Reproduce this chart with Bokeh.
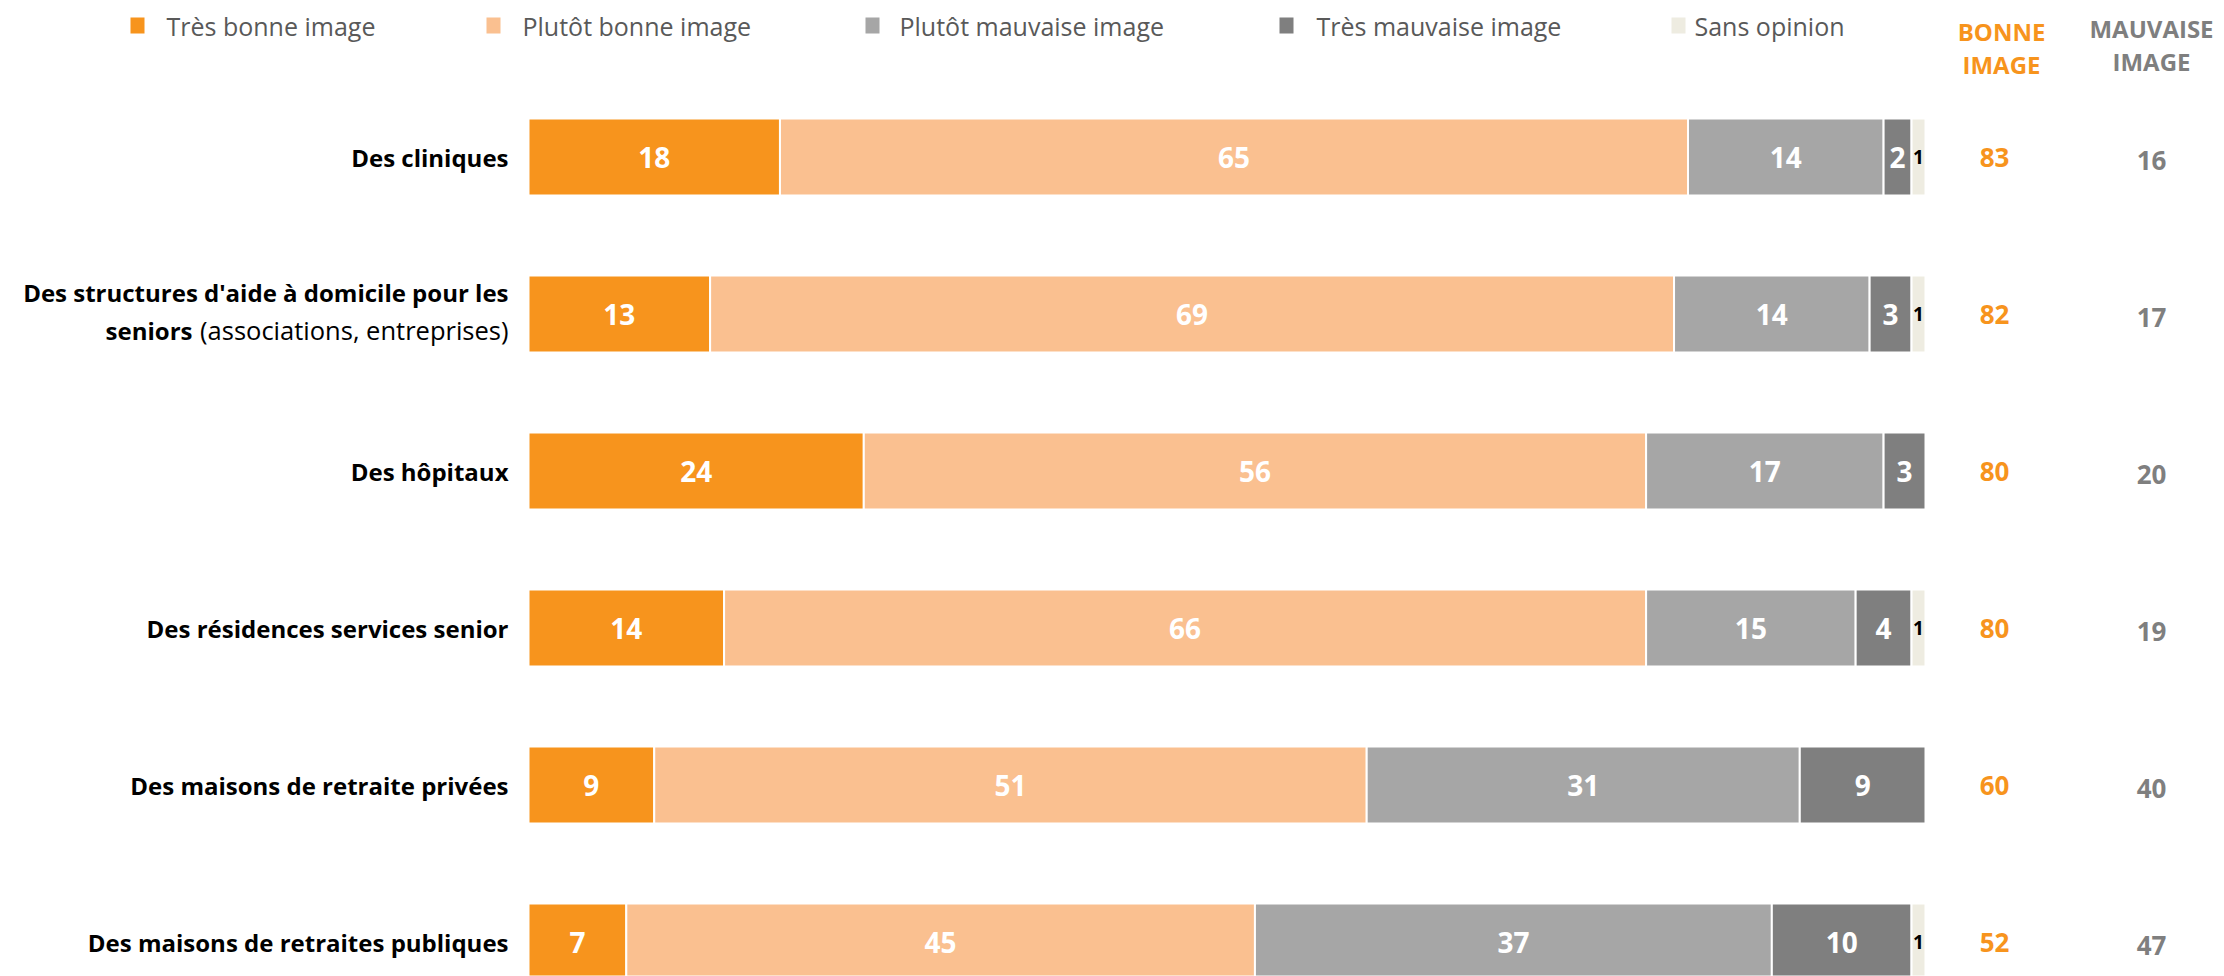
from bokeh.plotting import figure
from bokeh.models import Range1d, ColumnDataSource
from bokeh.embed import file_html
from bokeh.resources import INLINE
from bokeh.core.properties import value

# ---------------- data ----------------
categories = [
    "Des cliniques",
    "Des structures d'aide à domicile pour les seniors (associations, entreprises)",
    "Des hôpitaux",
    "Des résidences services senior",
    "Des maisons de retraite privées",
    "Des maisons de retraites publiques",
]
tres_bonne = [18, 13, 24, 14, 9, 7]
plutot_bonne = [65, 69, 56, 66, 51, 45]
plutot_mauvaise = [14, 14, 17, 15, 31, 37]
tres_mauvaise = [2, 3, 3, 4, 9, 10]
sans_opinion = [1, 1, 0, 1, 0, 1]
bonne_image = [83, 82, 80, 80, 60, 52]
mauvaise_image = [16, 17, 20, 19, 40, 47]
series_names = ["Très bonne image", "Plutôt bonne image", "Plutôt mauvaise image",
                "Très mauvaise image", "Sans opinion"]
header_bonne = ["BONNE", "IMAGE"]
header_mauvaise = ["MAUVAISE", "IMAGE"]

# ---------------- style / layout ----------------
colors = ["#F7941D", "#FAC090", "#A6A6A6", "#7F7F7F", "#EEECE1"]
ORANGE = "#F7941D"
GREY = "#7F7F7F"
FONT = "Open Sans"
W, H = 2224, 976
X0_PX = 528.0          # pixel of value 0
PX = 13.97             # pixels per percentage point
ROW_PX = 157.0
ROW0_PX = 156.5
BAR_H = 77.0 / ROW_PX


def px2x(px):
    return (px - X0_PX) / PX


def px2y(py):
    return (py - ROW0_PX) / ROW_PX


p = figure(width=W, height=H, output_backend="svg", toolbar_location=None,
           x_range=Range1d(px2x(0), px2x(W)),
           y_range=Range1d(px2y(H), px2y(0)),
           min_border=0)
p.axis.visible = False
p.grid.visible = False
p.outline_line_color = None
p.background_fill_color = "white"

series = [tres_bonne, plutot_bonne, plutot_mauvaise, tres_mauvaise, sans_opinion]
rows = list(range(len(categories)))

# stacked bars
left = [0.0] * len(rows)
for k, vals in enumerate(series):
    ys, ls, rs, mids, labs = [], [], [], [], []
    for i in rows:
        if vals[i] > 0:
            ys.append(i)
            ls.append(left[i])
            rs.append(left[i] + vals[i])
            mids.append(left[i] + vals[i] / 2.0)
            labs.append(str(vals[i]))
        left[i] += vals[i]
    src = ColumnDataSource(dict(y=ys, left=ls, right=rs, mid=mids, lab=labs))
    p.hbar(y="y", left="left", right="right", height=BAR_H, source=src,
           fill_color=colors[k], line_color="white", line_width=2)
    if k < 4:
        p.text(x="mid", y="y", text="lab", source=src, text_align="center",
               text_baseline="middle", text_color="white",
               text_font=value(FONT), text_font_style="bold", text_font_size="28px")
    else:
        p.text(x="mid", y="y", text="lab", source=src, text_align="center",
               text_baseline="middle", text_color="black",
               text_font=value(FONT), text_font_style="bold", text_font_size="19px")

# category labels
single = [i for i in rows if i != 1]
p.text(x=[0] * len(single), y=single, text=[categories[i] for i in single],
       x_offset=-20, text_align="right", text_baseline="middle",
       text_color="black", text_font=value(FONT), text_font_style="bold",
       text_font_size="24px")
cat_parts = categories[1].split(" seniors ")
p.text(x=[0], y=[1], text=[cat_parts[0]], x_offset=-20, y_offset=-22,
       text_align="right", text_baseline="middle", text_color="black",
       text_font=value(FONT), text_font_style="bold", text_font_size="24px")
p.text(x=[0], y=[1], text=[cat_parts[1]], x_offset=-20, y_offset=16,
       text_align="right", text_baseline="middle", text_color="black",
       text_font=value(FONT), text_font_size="25.5px")
p.text(x=[0], y=[1], text=["seniors"], x_offset=-336, y_offset=16,
       text_align="right", text_baseline="middle", text_color="black",
       text_font=value(FONT), text_font_style="bold", text_font_size="24px")

# totals columns
XB = px2x(1994)
XM = px2x(2151)
p.text(x=[XB] * len(rows), y=rows, text=[str(v) for v in bonne_image],
       text_align="center", text_baseline="middle", text_color=ORANGE,
       text_font=value(FONT), text_font_style="bold", text_font_size="26px")
p.text(x=[XM] * len(rows), y=rows, text=[str(v) for v in mauvaise_image],
       text_align="center", text_baseline="middle", text_color=GREY,
       text_font=value(FONT), text_font_style="bold", text_font_size="26px",
       y_offset=3)

# headers
p.text(x=[px2x(2001)] * 2, y=[px2y(31), px2y(64)], text=header_bonne,
       text_align="center", text_baseline="middle", text_color=ORANGE,
       text_font=value(FONT), text_font_style="bold", text_font_size="24px")
p.text(x=[px2x(2151)] * 2, y=[px2y(28), px2y(61)], text=header_mauvaise,
       text_align="center", text_baseline="middle", text_color=GREY,
       text_font=value(FONT), text_font_style="bold", text_font_size="24px")

# legend
sq_left_px = [130, 486, 865, 1279, 1671]
txt_left_px = [166, 522, 899, 1316, 1694]
LEG_Y = px2y(25)
p.rect(x=[px2x(v + 7) for v in sq_left_px], y=[LEG_Y] * 5, width=14 / PX,
       height=16 / ROW_PX, fill_color=colors, line_color=None)
p.text(x=[px2x(v) for v in txt_left_px], y=[LEG_Y] * 5, text=series_names,
       text_align="left", text_baseline="middle", text_color="#595959",
       text_font=value(FONT), text_font_size="25px")

open("out.html", "w").write(file_html(p, INLINE))
